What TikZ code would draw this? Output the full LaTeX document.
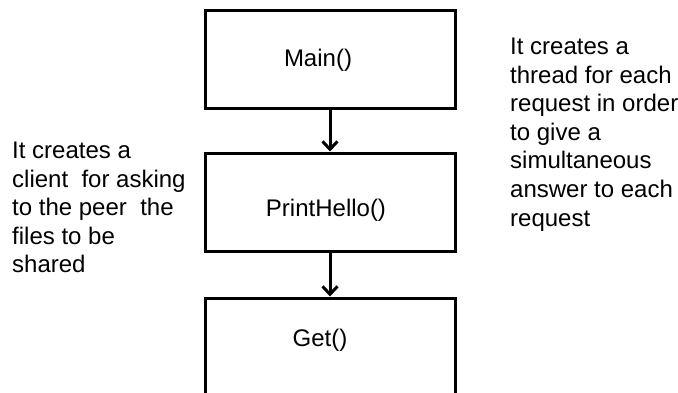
\documentclass[tikz,border=0pt]{standalone}
\usepackage{fontspec}
\setmainfont{Liberation Sans}
\usetikzlibrary{arrows.meta}
\begin{document}
\begin{tikzpicture}[x=1pt,y=-1pt,
  box/.style={draw=black,line width=3pt,minimum width=250pt,minimum height=98pt,inner sep=0pt},
  boxtext/.style={font=\fontsize{24}{28.6}\selectfont,inner sep=0pt},
  note/.style={font=\fontsize{24}{28.6}\selectfont,align=left,inner sep=0pt,anchor=north west},
  flow/.style={line width=3pt,-{Straight Barb[length=8pt,width=15pt,line width=3pt]}}]
\useasboundingbox (0,0) rectangle (678,392);
\clip (0,0) rectangle (678,392);
\node[box,label={[boxtext,xshift=-12pt,yshift=-1pt]center:Main()}] (main) at (330,59) {};
\node[box,label={[boxtext,xshift=-4pt,yshift=-8pt]center:PrintHello()}] (hello) at (330,202) {};
\node[box,minimum height=100pt,label={[boxtext,xshift=-10pt,yshift=8pt]center:Get()}] (get) at (330,348) {};
\draw[flow] (main.south) -- (hello.north);
\draw[flow] (hello.south) -- (get.north);
\node[note] (left) at (12,141.8) {It creates a\\client\ \ for asking\\to the peer\ \ the\\files to be\\shared};
\node[note] (right) at (510,37.8) {It creates a\\thread for each\\request in order\\to give a\\simultaneous\\answer to each\\request};
\end{tikzpicture}
\end{document}
